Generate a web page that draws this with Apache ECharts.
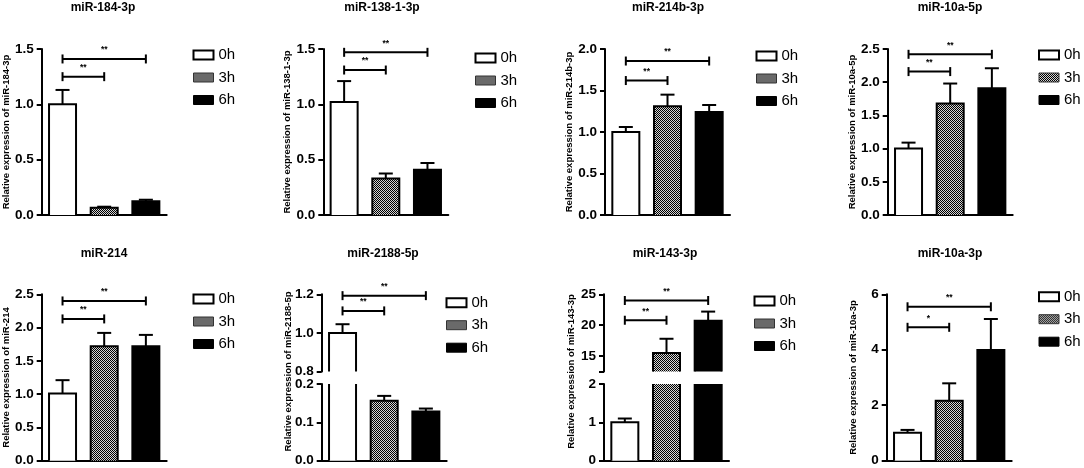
<!DOCTYPE html>
<html><head><meta charset="utf-8">
<script src="https://cdn.jsdelivr.net/npm/echarts@6/dist/echarts.min.js"></script>
<style>html,body{margin:0;padding:0;background:#fff}#c{width:1084px;height:468px}</style>
</head><body><div id="c"></div><script>
// ---------- data ----------
const groups = ['0h', '3h', '6h'];
const titles = ['miR-184-3p', 'miR-138-1-3p', 'miR-214b-3p', 'miR-10a-5p', 'miR-214', 'miR-2188-5p', 'miR-143-3p', 'miR-10a-3p'];

const mean184 = [1.00, 0.065, 0.125];  const err184 = [0.13, 0.010, 0.013];
const mean138 = [1.02, 0.33, 0.41];    const err138 = [0.19, 0.045, 0.06];
const mean214b = [1.00, 1.31, 1.24];   const err214b = [0.06, 0.14, 0.085];
const mean10a5p = [1.00, 1.68, 1.91];  const err10a5p = [0.09, 0.30, 0.30];
const mean214 = [1.01, 1.72, 1.72];    const err214 = [0.20, 0.20, 0.17];
const mean2188 = [1.00, 0.156, 0.128]; const err2188 = [0.045, 0.013, 0.008];
const mean143 = [1.00, 15.5, 20.7];    const err143 = [0.10, 2.3, 1.5];
const mean10a3p = [1.01, 2.16, 3.99];  const err10a3p = [0.10, 0.63, 1.12];

// significance brackets: [from group, to group, level, mark]
const sig184 = [[0, 1, 1.25, '**'], [0, 2, 1.41, '**']];
const sig138 = [[0, 1, 1.31, '**'], [0, 2, 1.47, '**']];
const sig214b = [[0, 1, 1.62, '**'], [0, 2, 1.855, '**']];
const sig10a5p = [[0, 1, 2.16, '**'], [0, 2, 2.42, '**']];
const sig214 = [[0, 1, 2.13, '**'], [0, 2, 2.40, '**']];
const sig2188 = [[0, 1, 1.114, '**'], [0, 2, 1.193, '**']];
const sig143 = [[0, 1, 20.8, '**'], [0, 2, 24.0, '**']];
const sig10a3p = [[0, 1, 4.81, '*'], [0, 2, 5.55, '**']];

// y axis segments, top to bottom: [min, max, tick values]
const ax184 = [[0, 1.5, [0, 0.5, 1.0, 1.5]]];
const ax138 = [[0, 1.5, [0, 0.5, 1.0, 1.5]]];
const ax214b = [[0, 2.0, [0, 0.5, 1.0, 1.5, 2.0]]];
const ax10a5p = [[0, 2.5, [0, 0.5, 1.0, 1.5, 2.0, 2.5]]];
const ax214 = [[0, 2.5, [0, 0.5, 1.0, 1.5, 2.0, 2.5]]];
const ax2188 = [[0.8, 1.2, [0.8, 1.0, 1.2]], [0, 0.2, [0, 0.1, 0.2]]];
const ax143 = [[12.5, 25, [15, 20, 25]], [0, 2, [0, 1, 2]]];
const ax10a3p = [[0, 6, [0, 2, 4, 6]]];
const labelDigits = [1, 1, 1, 1, 1, 1, 0, 0];

const means = [mean184, mean138, mean214b, mean10a5p, mean214, mean2188, mean143, mean10a3p];
const errs = [err184, err138, err214b, err10a5p, err214, err2188, err143, err10a3p];
const sigs = [sig184, sig138, sig214b, sig10a5p, sig214, sig2188, sig143, sig10a3p];
const axes = [ax184, ax138, ax214b, ax10a5p, ax214, ax2188, ax143, ax10a3p];

// ---------- layout ----------
const FONT = '"Liberation Sans", Arial, sans-serif';
const gridLeft = [41.7, 323.3, 605, 887.7, 41.7, 321.7, 604, 886.7];
const plotW = 125;
const rowTop = [49, 294.3];
const rowH = [166, 166.4];
const brokenUpperH = 77.2, brokenLowerTop = 384, brokenLowerH = 76.7;
const nameGaps = [30, 28, 27, 30, 30, 28, 27, 28.5];
const titleX = [103, 382, 668, 950, 104, 383, 665, 950];
const titleTop = [2, 247.5];
const legendLeft = [192.5, 474.5, 755.5, 1038, 192.5, 445.5, 753.5, 1038];
const legendTop = [47, 50, 48, 47, 291, 294.7, 293, 288.7];
const BAR_W = 27;

function makeHatch() {
  const c = document.createElement('canvas');
  c.width = 2; c.height = 2;
  const x = c.getContext('2d');
  x.fillStyle = '#d4d4d4'; x.fillRect(0, 0, 2, 2);
  x.fillStyle = '#000'; x.fillRect(0, 0, 1, 1); x.fillRect(1, 1, 1, 1);
  return c;
}
const hatch = { image: makeHatch(), repeat: 'repeat' };
const fills = ['#ffffff', hatch, '#000000'];

const option = {
  animation: false,
  textStyle: { fontFamily: FONT },
  title: [], grid: [], xAxis: [], yAxis: [], series: [], legend: [], graphic: []
};

let g = 0;
for (let i = 0; i < 8; i++) {
  const row = i < 4 ? 0 : 1;
  const segs = axes[i];
  const yName = 'Relative expression of ' + titles[i];

  option.title.push({
    text: titles[i], left: titleX[i], top: titleTop[row], textAlign: 'center', padding: 0,
    textStyle: { fontSize: 12, fontWeight: 'bold', color: '#000', fontFamily: FONT }
  });

  option.legend.push({
    orient: 'vertical', left: legendLeft[i], top: legendTop[i], padding: 0,
    itemWidth: 20, itemHeight: 9, itemGap: 6.5, icon: 'rect', selectedMode: false,
    textStyle: { fontSize: 15, color: '#000', lineHeight: 16, fontFamily: FONT },
    data: [
      { name: '0h', itemStyle: { color: '#fff', borderColor: '#000', borderWidth: 2 } },
      { name: '3h', itemStyle: { color: hatch, borderColor: '#333', borderWidth: 1 } },
      { name: '6h', itemStyle: { color: '#000', borderColor: '#000', borderWidth: 1 } }
    ]
  });

  segs.forEach((seg, k) => {
    const isUpper = k === 0;
    const isLower = k === segs.length - 1;
    let top, h;
    if (segs.length === 1) { top = rowTop[row]; h = rowH[row]; }
    else if (k === 0) { top = rowTop[row]; h = brokenUpperH; }
    else { top = brokenLowerTop; h = brokenLowerH; }

    option.grid.push({ left: gridLeft[i], top: top, width: plotW, height: h, outerBoundsMode: 'none', containLabel: false });
    option.xAxis.push({
      type: 'category', gridIndex: g, data: groups, show: isLower,
      axisLine: { show: true, lineStyle: { color: '#000', width: 2 } },
      axisTick: { show: false }, axisLabel: { show: false }, splitLine: { show: false }
    });
    const tickVals = seg[2].slice();
    if (tickVals.indexOf(seg[0]) < 0) tickVals.unshift(seg[0]);
    const digits = labelDigits[i];
    const yAx = {
      type: 'value', gridIndex: g, min: seg[0], max: seg[1],
      axisLine: { show: true, lineStyle: { color: '#000', width: 2 } },
      axisTick: { show: true, length: 5, lineStyle: { color: '#000', width: 2 }, customValues: tickVals },
      axisLabel: {
        show: true, customValues: seg[2], margin: 8, color: '#000', fontSize: 13.5, fontWeight: 'bold', fontFamily: FONT,
        formatter: v => Number(v).toFixed(digits)
      },
      splitLine: { show: false }
    };
    if (segs.length === 1) {
      yAx.name = yName; yAx.nameLocation = 'middle'; yAx.nameGap = nameGaps[i];
      yAx.nameTextStyle = { fontSize: 9.5, fontWeight: 'bold', color: '#000', fontFamily: FONT };
    }
    option.yAxis.push(yAx);

    const mean = means[i], err = errs[i];
    // bar fills
    groups.forEach((name, j) => {
      option.series.push({
        type: 'bar', name: name, xAxisIndex: g, yAxisIndex: g, silent: true,
        barWidth: BAR_W, barGap: '-100%', clip: true,
        itemStyle: { color: fills[j], borderWidth: 0 },
        data: groups.map((_, q) => (q === j ? mean[q] : '-'))
      });
    });
    // bar outlines (open where cut by the axis break)
    option.series.push({
      type: 'custom', xAxisIndex: g, yAxisIndex: g, silent: true, z: 3,
      data: mean.map((v, q) => [q, v]),
      renderItem: (params, api) => {
        const cs = params.coordSys;
        const yTopLim = cs.y, yBotLim = cs.y + cs.height;
        const pv = api.coord([api.value(0), api.value(1)]);
        const p0 = api.coord([api.value(0), 0]);
        let yT = pv[1], yB = Math.min(p0[1], yBotLim);
        if (yT >= yBotLim) return null;
        const cut = yT < yTopLim;
        yT = Math.max(yT, yTopLim);
        const x0 = pv[0] - BAR_W / 2, x1 = pv[0] + BAR_W / 2;
        const st = { stroke: '#000', lineWidth: 2, fill: null };
        if (cut) {
          return { type: 'group', children: [
            { type: 'line', shape: { x1: x0, y1: yT, x2: x0, y2: yB }, style: st },
            { type: 'line', shape: { x1: x1, y1: yT, x2: x1, y2: yB }, style: st }
          ] };
        }
        return { type: 'polyline', shape: { points: [[x0, yB], [x0, yT], [x1, yT], [x1, yB]] }, style: st };
      }
    });
    // error bars (upper half)
    option.series.push({
      type: 'custom', xAxisIndex: g, yAxisIndex: g, silent: true, z: 4,
      data: mean.map((v, q) => [q, v, v + err[q]]),
      renderItem: (params, api) => {
        const cs = params.coordSys;
        const yTopLim = cs.y, yBotLim = cs.y + cs.height;
        const a = api.coord([api.value(0), api.value(1)]);
        const b = api.coord([api.value(0), api.value(2)]);
        if (a[1] < yTopLim || b[1] > yBotLim) return null;
        const st = { stroke: '#000', lineWidth: 2 };
        return { type: 'group', children: [
          { type: 'line', shape: { x1: a[0], y1: a[1], x2: b[0], y2: b[1] }, style: st },
          { type: 'line', shape: { x1: b[0] - 7, y1: b[1], x2: b[0] + 7, y2: b[1] }, style: st }
        ] };
      }
    });
    // significance brackets
    if (isUpper) {
      const sg = sigs[i];
      option.series.push({
        type: 'custom', xAxisIndex: g, yAxisIndex: g, silent: true, z: 5,
        data: sg.map(s => [s[0], s[2], s[1]]),
        renderItem: (params, api) => {
          const a = api.coord([api.value(0), api.value(1)]);
          const c = api.coord([api.value(2), api.value(1)]);
          const st = { stroke: '#000', lineWidth: 2 };
          return { type: 'group', children: [
            { type: 'line', shape: { x1: a[0], y1: a[1], x2: c[0], y2: c[1] }, style: st },
            { type: 'line', shape: { x1: a[0], y1: a[1] - 4.5, x2: a[0], y2: a[1] + 4.5 }, style: st },
            { type: 'line', shape: { x1: c[0], y1: c[1] - 4.5, x2: c[0], y2: c[1] + 4.5 }, style: st },
            { type: 'text', x: (a[0] + c[0]) / 2, y: a[1] - 9,
              style: { text: sg[params.dataIndex][3], font: 'bold 8.5px ' + FONT, align: 'center', verticalAlign: 'middle', fill: '#000' } }
          ] };
        }
      });
    }
    g++;
  });

  if (segs.length > 1) {
    option.graphic.push({
      type: 'text', x: gridLeft[i] - 33, y: (rowTop[row] + brokenLowerTop + brokenLowerH) / 2 - 6, rotation: Math.PI / 2,
      style: { text: yName, font: 'bold 9.5px ' + FONT, align: 'center', verticalAlign: 'middle', fill: '#000' }
    });
  }
}

const chart = echarts.init(document.getElementById('c'), null, { renderer: 'canvas' });
chart.setOption(option);
</script></body></html>
